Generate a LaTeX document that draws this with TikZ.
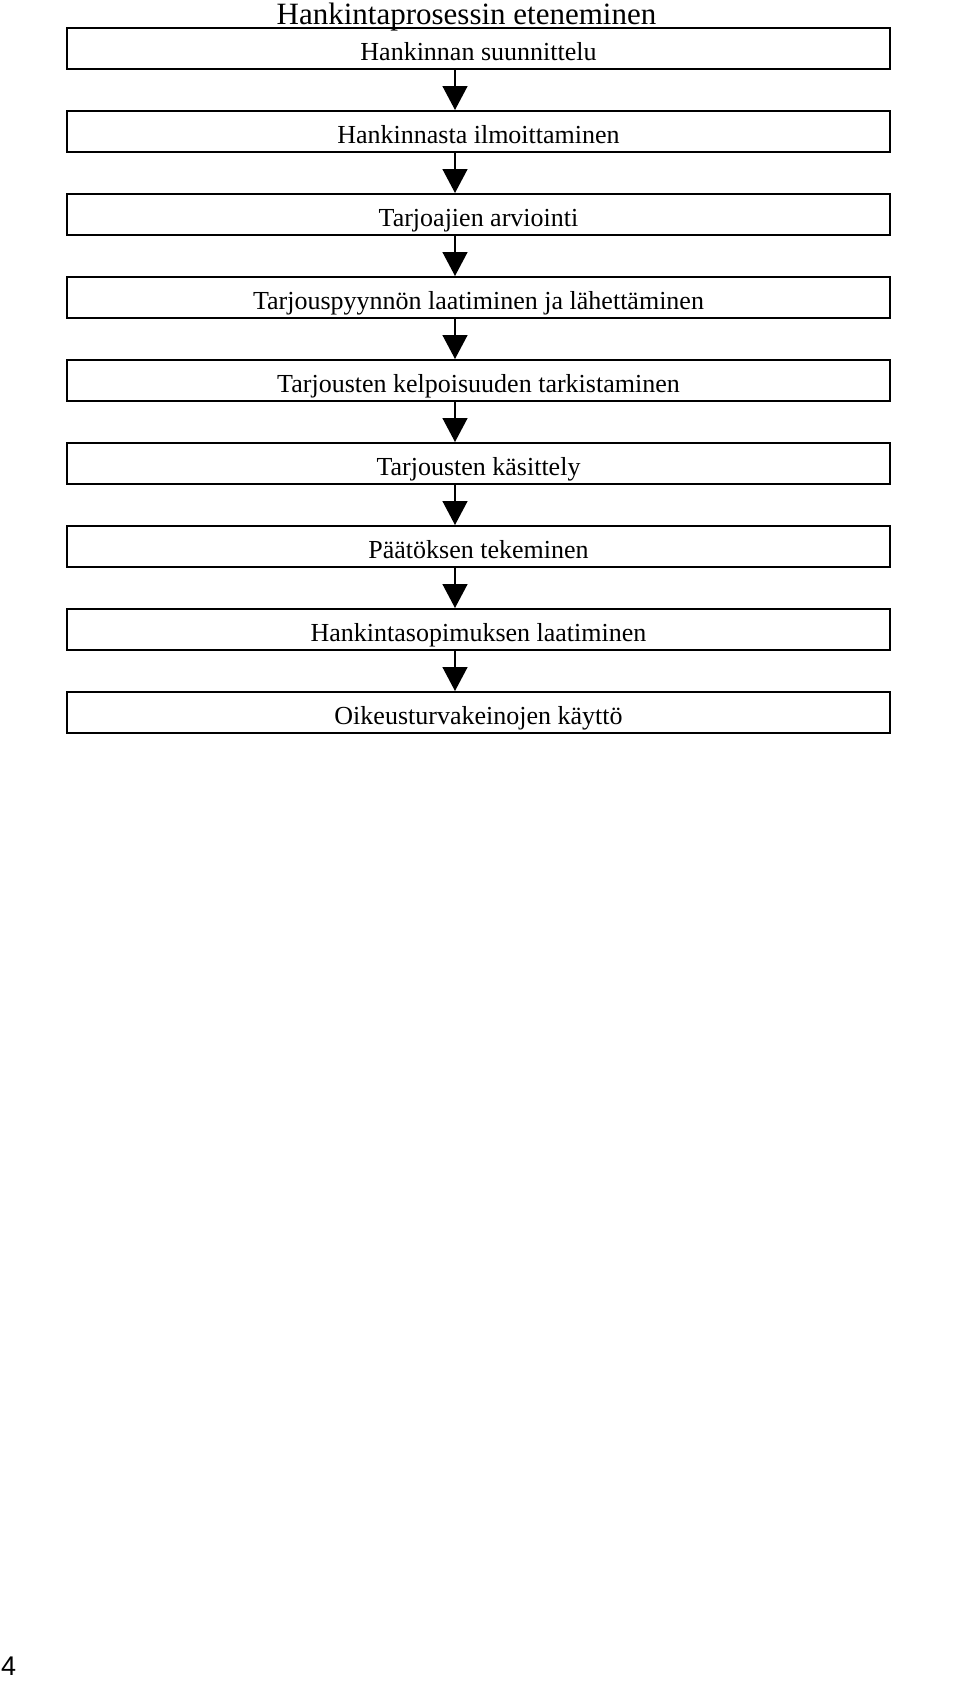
\documentclass[tikz,border=0pt]{standalone}
\usepackage{fontspec}
\setmainfont{Liberation Serif}
\newfontfamily\numfont{Liberation Sans}
\usetikzlibrary{arrows.meta}
\tikzset{
  stepbox/.style={draw, line width=2pt, minimum width=823pt, minimum height=41pt,
    inner sep=0pt, text height=23pt, text depth=0pt,
    font=\fontsize{26}{30}\selectfont},
  flow/.style={line width=1.5pt, -{Triangle[width=25pt,length=24pt]}}
}
\begin{document}
\begin{tikzpicture}[x=1pt,y=-1pt]
\useasboundingbox (0,0) rectangle (960,1681);
\node[anchor=base, font=\fontsize{31}{36}\selectfont, inner sep=0pt] (title) at (466.5,24) {Hankintaprosessin eteneminen};
\foreach \i/\t in {1/Hankinnan suunnittelu,
                   2/Hankinnasta ilmoittaminen,
                   3/Tarjoajien arviointi,
                   4/Tarjouspyynnön laatiminen ja lähettäminen,
                   5/Tarjousten kelpoisuuden tarkistaminen,
                   6/Tarjousten käsittely,
                   7/Päätöksen tekeminen,
                   8/Hankintasopimuksen laatiminen,
                   9/Oikeusturvakeinojen käyttö}{
  \node[stepbox] (b\i) at (478.5,{28+83*(\i-1)+20.5}) {\t};
}
\foreach \i [evaluate=\i as \j using int(\i+1)] in {1,...,8}{
  \draw[flow] (b\i.south -| 455,0) -- (b\j.north -| 455,0);
}
\node[anchor=base west, inner sep=0pt, font=\numfont\fontsize{27}{30}\selectfont] (pagenum) at (1,1675) {4};
\end{tikzpicture}
\end{document}
